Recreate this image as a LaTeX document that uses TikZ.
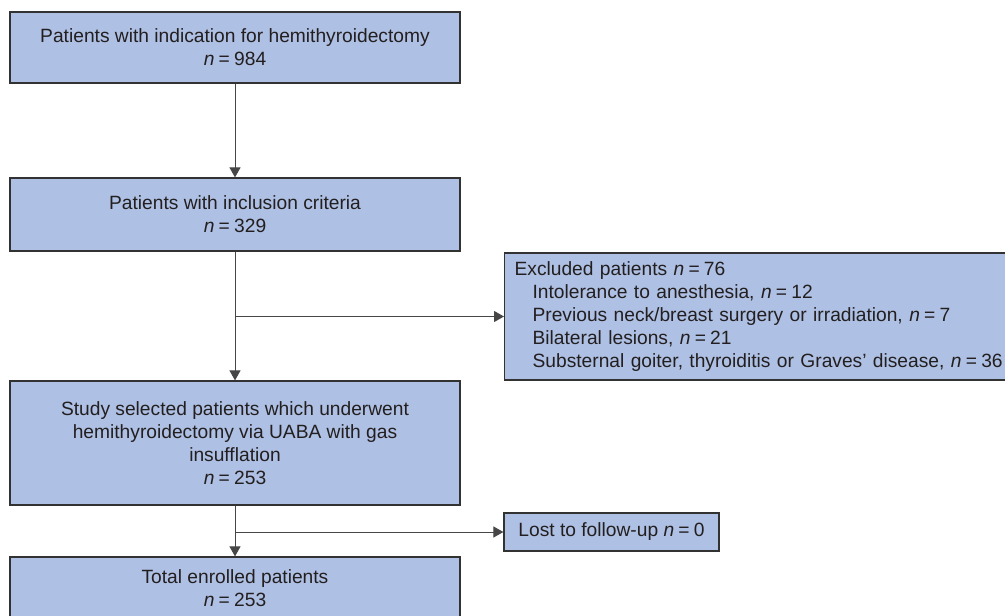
\documentclass[tikz,border=0pt]{standalone}
\usepackage{fontspec}
\setmainfont{Liberation Sans}
\usetikzlibrary{arrows.meta}
\definecolor{boxfill}{RGB}{174,192,227}
\definecolor{boxline}{RGB}{50,50,50}
\definecolor{txt}{RGB}{35,31,32}
\definecolor{conn}{RGB}{70,70,70}
\tikzset{
  flowbox/.style={draw=boxline, line width=1.2pt, fill=boxfill, text=txt, inner sep=0pt,
    align=center, font=\fontsize{19.2}{23}\selectfont},
  sidebox/.style={draw=boxline, line width=1.2pt, fill=boxfill, text=txt, inner xsep=10pt, inner ysep=0pt,
    align=left, font=\fontsize{19.2}{23}\selectfont},
  conn/.style={draw=conn, line width=1pt, -{Triangle[length=10pt,width=11pt]}}
}
\newcommand{\nn}[1]{\textit{n}\hspace{0.22em}=\hspace{0.22em}#1}
\begin{document}
\begin{tikzpicture}[x=1pt,y=-1pt]
\useasboundingbox (0,0) rectangle (1005,616);
\node[flowbox, minimum width=450pt, minimum height=71pt] (b1) at (235,47.5)
  {Patients with indication for hemithyroidectomy\\ \nn{984}};
\node[flowbox, minimum width=450pt, minimum height=73pt] (b2) at (235,214.5)
  {Patients with inclusion criteria\\ \nn{329}};
\node[sidebox, anchor=west, text width=481pt, minimum height=127pt] (ex) at (504,316.5)
  {\mbox{Excluded patients \nn{76}}\\
   \mbox{\hspace*{18pt}Intolerance to anesthesia, \nn{12}}\\
   \mbox{\hspace*{18pt}Previous neck/breast surgery or irradiation, \nn{7}}\\
   \mbox{\hspace*{18pt}Bilateral lesions, \nn{21}}\\
   \mbox{\hspace*{18pt}Substernal goiter, thyroiditis or Graves' disease, \nn{36}}};
\node[flowbox, minimum width=450pt, minimum height=124pt] (b3) at (235,443)
  {Study selected patients which underwent\\ hemithyroidectomy via UABA with gas\\ insufflation\\ \nn{253}};
\node[flowbox, minimum width=215pt, minimum height=38pt] (lost) at (611.5,532)
  {Lost to follow-up \nn{0}};
\node[flowbox, minimum width=450pt, minimum height=63pt] (b4) at (235,588.5)
  {Total enrolled patients\\ \nn{253}};
\coordinate (j1) at (235,316.5);
\coordinate (j2) at (235,532);
\draw[conn] (b1.south) -- (b2.north);
\draw[conn] (b2.south) -- (b3.north);
\draw[conn] (j1) -- (ex.west);
\draw[conn] (b3.south) -- (b4.north);
\draw[conn] (j2) -- (lost.west);
\end{tikzpicture}
\end{document}
